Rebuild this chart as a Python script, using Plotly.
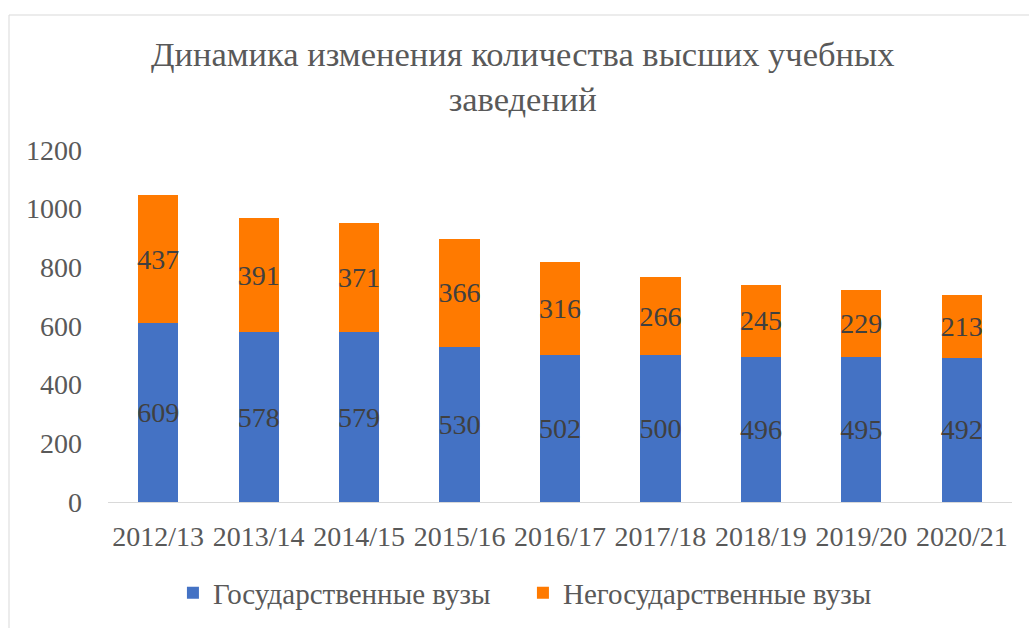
import plotly.graph_objects as go

years = ["2012/13", "2013/14", "2014/15", "2015/16", "2016/17", "2017/18", "2018/19", "2019/20", "2020/21"]
state = [609, 578, 579, 530, 502, 500, 496, 495, 492]
nonstate = [437, 391, 371, 366, 316, 266, 245, 229, 213]
y_ticks = [0, 200, 400, 600, 800, 1000, 1200]

FONT = "Liberation Serif, Times New Roman, serif"
fig = go.Figure()
for vals, name, color in [(state, "Государственные вузы", "#4472C4"), (nonstate, "Негосударственные вузы", "#FF7A00")]:
    fig.add_trace(go.Bar(x=years, y=vals, name=name, marker=dict(color=color, line=dict(width=0)),
                         text=vals, textposition="inside", insidetextanchor="middle", constraintext="none",
                         textangle=0, textfont=dict(family=FONT, size=28, color="#404040")))

L, R, T, B = 108, 17, 150, 126
PH = 628 - T - B
fig.update_layout(
    barmode="stack", bargap=0.6,
    width=1029, height=628,
    margin=dict(l=L, r=R, t=T, b=B, autoexpand=False),
    paper_bgcolor="white", plot_bgcolor="white",
    font=dict(family=FONT, color="#595959"),
    title=dict(text="Динамика изменения количества высших учебных<br>заведений",
               x=0.508, xref="container", xanchor="center", y=1 - 66/628, yref="container", yanchor="top",
               font=dict(family=FONT, size=34.5, color="#595959")),
    xaxis=dict(showline=True, linecolor="#d9d9d9", linewidth=1, ticks="", showgrid=False, automargin=False,
               tickfont=dict(family=FONT, size=28, color="#595959"), ticklabelstandoff=9),
    yaxis=dict(range=[0, 1200], tickvals=y_ticks, showgrid=False, zeroline=False, showline=False, automargin=False,
               tickfont=dict(family=FONT, size=28, color="#595959"), ticklabelstandoff=25),
    legend=dict(orientation="h", traceorder="normal", x=0.459, xanchor="center",
                yref="container", y=1 - 593/628, yanchor="middle",
                entrywidth=305, entrywidthmode="pixels",
                font=dict(family=FONT, size=29, color="#595959")),
    shapes=[dict(type="rect", xref="paper", yref="paper", x0=(9 - L) / 904, x1=1.03, y0=-0.4, y1=1 + (T - 15) / PH,
                 line=dict(color="#d9d9d9", width=1), fillcolor="rgba(0,0,0,0)", layer="below")],
)
fig.write_html("out.html", config={"displayModeBar": False},
               post_script="document.body.style.margin='0';document.body.style.overflow='hidden';")
